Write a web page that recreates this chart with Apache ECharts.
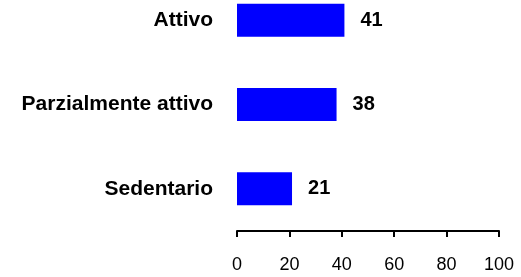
<!DOCTYPE html>
<html>
<head>
<meta charset="utf-8">
<script src="https://cdn.jsdelivr.net/npm/echarts@6/dist/echarts.min.js"></script>
<style>
html, body { margin: 0; padding: 0; background: #fff; }
#chart { width: 521px; height: 277px; }
</style>
</head>
<body>
<div id="chart"></div>
<script>
// categories top to bottom
var categorie = ['Attivo', 'Parzialmente attivo', 'Sedentario'];
var valori = [41, 38, 21];
var tickValori = [0, 20, 40, 60, 80, 100];

var chart = echarts.init(document.getElementById('chart'));
var option = {
	animation : false,
	backgroundColor : '#ffffff',
	textStyle : {
		fontFamily : 'Liberation Sans, Arial, sans-serif'
	},
	grid : {
		left : 237,
		right : 22,
		top : -22,
		bottom : 46,
		containLabel : false,
		outerBoundsMode : 'none'
	},
	xAxis : {
		type : 'value',
		min : tickValori[0],
		max : tickValori[tickValori.length - 1],
		interval : 20,
		splitLine : { show : false },
		axisLine : {
			show : true,
			lineStyle : { color : '#000', width : 2 }
		},
		axisTick : {
			show : true,
			length : 6,
			lineStyle : { color : '#000', width : 2 }
		},
		axisLabel : {
			color : '#000',
			fontSize : 18,
			margin : 25
		}
	},
	yAxis : {
		type : 'category',
		data : categorie,
		inverse : true,
		axisLine : { show : false },
		axisTick : { show : false },
		axisLabel : {
			color : '#000',
			fontSize : 21,
			fontWeight : 'bold',
			margin : 24
		}
	},
	series : [ {
		type : 'bar',
		data : valori,
		barWidth : 33,
		itemStyle : { color : '#0000ff' },
		label : {
			show : true,
			position : 'right',
			distance : 16,
			color : '#000',
			fontSize : 20,
			fontWeight : 'bold'
		}
	} ]
};
chart.setOption(option);
</script>
</body>
</html>
